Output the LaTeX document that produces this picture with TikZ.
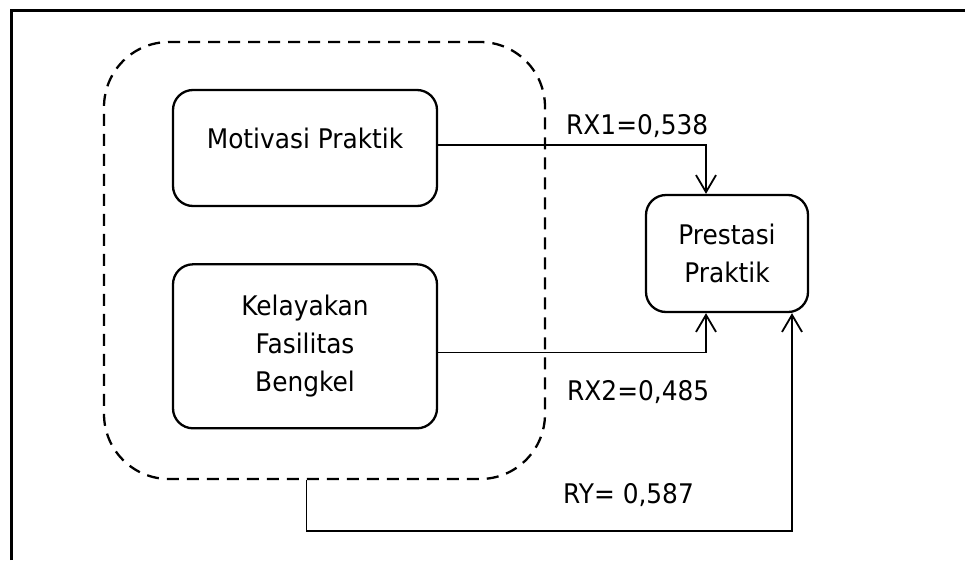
\documentclass[tikz,border=0pt]{standalone}
\usepackage{fontspec}
\setmainfont{DejaVu Sans}[FakeStretch=0.92]
\usetikzlibrary{positioning, arrows.meta}

\begin{document}
\begin{tikzpicture}[x=1pt, y=-1pt,
	every node/.style={font=\fontsize{27}{38}\selectfont},
	kotak/.style={rectangle, draw, line width=2.3pt, rounded corners=20pt, align=center, inner sep=0pt},
	panah/.style={line width=1.4pt, -{Straight Barb[length=17pt, width=20pt, line width=1.8pt]}},
	nilai/.style={anchor=base west, inner sep=0pt}]
	\useasboundingbox (0,0) rectangle (965,560);
	
	% Bingkai
	\draw[line width=3pt] (11.5,560) -- (11.5,10) -- (965,10);
	
	% Variabel bebas
	\node[draw, dashed, dash pattern=on 12pt off 8pt, line width=2.3pt, rounded corners=65pt, minimum width=441pt, minimum height=437pt, inner sep=0pt] (grup) at (324.5,260.5) {};
	\node[kotak, minimum width=264pt, minimum height=116pt, text depth=20pt] (motivasi) at (305,148) {Motivasi Praktik};
	\node[kotak, minimum width=264pt, minimum height=164pt, below=56pt of motivasi] (kelayakan) {Kelayakan\\Fasilitas\\Bengkel};
	
	% Variabel terikat
	\node[kotak, minimum width=162pt, minimum height=117pt] (prestasi) at (727,253.5) {Prestasi\\Praktik};
	
	\draw[panah] ([yshift=3pt]motivasi.east) -| ([xshift=-21pt]prestasi.north);
	\draw[panah] ([yshift=-6pt]kelayakan.east) -| ([xshift=-21pt]prestasi.south);
	\draw[panah] ([xshift=-18pt]grup.south) -- ++(0,51) -| ([xshift=65pt]prestasi.south);
	
	% Koefisien
	\node[nilai] (rx1) at (566,134) {RX1=0,538};
	\node[nilai] (rx2) at (567,400) {RX2=0,485};
	\node[nilai] (ry) at (563,503) {RY= 0,587};
\end{tikzpicture}
\end{document}
